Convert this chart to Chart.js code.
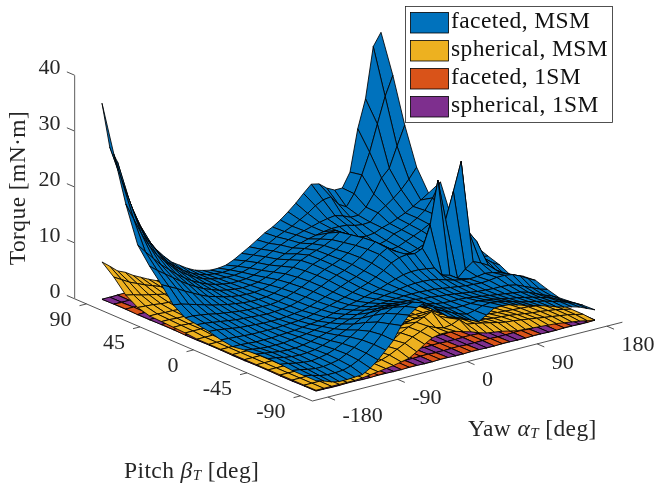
<!DOCTYPE html>
<html>
<head>
<meta charset="utf-8">
<style>html,body{margin:0;padding:0;background:#fff}canvas{display:block}</style>
<script src="https://cdn.jsdelivr.net/npm/chart.js@4/dist/chart.umd.min.js"></script>
</head>
<body>
<canvas id="c" width="657" height="489"></canvas>
<script>
const yawValues = [-180,-170,-160,-150,-140,-130,-120,-110,-100,-90,-80,-70,-60,-50,-40,-30,-20,-10,0,10,20,30,40,50,60,70,80,90,100,110,120,130,140,150,160,170,180];
const pitchValues = [90,80,70,60,50,40,30,20,10,0,-10,-20,-30,-40,-50,-60,-70,-80,-90];
const yawTicks = [-180,-90,0,90,180];
const pitchTicks = [90,45,0,-45,-90];
const torqueTicks = [0,10,20,30,40];
const seriesNames = ['faceted, MSM','spherical, MSM','faceted, 1SM','spherical, 1SM'];
const seriesColors = ['#0072BD','#EDB120','#D95319','#7E2F8E'];

const facetedMSM = [
[35.2,27,24,18.6,14.7,11.4,8.6,6.6,5,3.6,2.7,1.8,1.1,.7,.4,.4,.6,1.2,2,2.8,3.7,4.6,5.3,6.2,7.3,8.5,9.9,11.2,10.9,9.8,9.1,9.1,11.6,19,24,33,35.2],
[27,22,18,14,11,8.8,6.8,5.2,4,3,2.2,1.6,1.2,1,.9,1,1.3,1.9,2.6,3.3,4,4.8,5.4,6,6.8,7.6,8.6,9.3,9.5,7.8,7,9,12,15.7,20.4,25,28.4],
[19,16,13,10.5,8.5,7,5.6,4.4,3.5,2.7,2.1,1.7,1.4,1.3,1.3,1.5,1.9,2.5,3.2,3.9,4.6,5.2,5.7,6.1,6.5,6.9,7.2,7.4,7,6.4,6.4,7.5,9.5,12,13.4,17,20.4],
[12.6,11,9.5,8,6.8,5.6,4.6,3.7,3,2.4,2,1.7,1.5,1.5,1.6,1.9,2.4,3,3.7,4.3,5,5.5,5.9,6.2,6.5,6.7,6.7,6.6,6.2,6,6.1,7.4,8.3,9.3,10.5,12,13.8],
[9.7,8.6,7.6,6.6,5.6,4.7,3.9,3.2,2.7,2.2,1.9,1.7,1.6,1.7,1.9,2.4,3,3.7,4.5,5.2,5.8,6.3,6.8,7.5,7.6,6.8,6,5.4,5.2,5.4,6,6.4,7,7.6,8.4,9.2,10.1],
[7.3,6.6,5.9,5.1,4.4,3.7,3.1,2.7,2.3,2,1.8,1.7,1.7,1.9,2.3,2.9,3.6,4.4,5.3,5.9,6.4,6.9,7.6,8.6,7.9,6.9,5.9,5,4.6,5,5.8,6.2,6.8,7.6,8.6,10.5,13],
[4.6,4.4,4,3.6,3.2,2.8,2.5,2.2,2,1.8,1.7,1.7,1.8,2.1,2.6,3.2,3.9,4.7,5.5,6,6.5,7.1,8,9,8.1,7.1,6.1,5.2,4.6,4.8,5.4,6,6.6,7.4,8.6,8,7],
[3.2,3.2,3,2.8,2.5,2.3,2.1,1.9,1.8,1.7,1.7,1.7,1.9,2.3,2.8,3.4,4.1,4.8,5.5,6,6.6,7.4,8.4,9.4,8.4,7.4,6.4,5.4,4.6,4.6,5,5.6,6.2,7,6.6,6,5.6],
[2.9,2.8,2.6,2.4,2.2,2,1.9,1.8,1.7,1.6,1.7,1.8,2,2.4,2.9,3.5,4.1,4.8,5.4,5.9,6.6,7.5,8.6,9.6,8.6,7.6,6.6,5.6,4.8,4.4,5,6,7,6.4,5.4,4.5,4.2],
[2.6,2.5,2.3,2.1,1.9,1.8,1.7,1.6,1.6,1.6,1.7,1.9,2.1,2.5,3,3.5,4,4.6,5.2,5.7,6.4,7.4,8.6,9.4,8.5,7.5,6.5,5.5,4.8,6.5,8,6.5,7,6,4.6,3.6,3.4],
[2,1.9,1.8,1.7,1.6,1.6,1.6,1.6,1.7,1.8,1.9,2.1,2.4,2.8,3.2,3.6,4,4.5,5,5.5,6.2,7,8,8.6,8.8,8.6,9.2,13,20.7,13.3,18,23,10,8,4.6,3.5,2.7],
[1.7,1.7,1.6,1.5,1.5,1.5,1.6,1.7,1.8,2,2.2,2.4,2.7,3.1,3.5,3.9,4.2,4.6,5,5.4,5.9,6.4,6.8,7,7,6.8,6.6,5,4.6,3.7,5,6,5.4,4.6,3.4,2.4,1.6],
[2,1.8,1.6,1.5,1.5,1.5,1.7,1.9,2.1,2.4,2.7,3,3.4,3.8,4.2,4.5,4.8,5.1,5.4,5.6,5.9,6.1,6.2,6.2,6.1,5.8,5.4,5,4.7,4.5,4.6,4.8,4.6,4.2,3.6,3,2.5],
[2.2,2,1.8,1.6,1.5,1.5,1.7,2,2.4,2.8,3.2,3.7,4.2,4.7,5.1,5.4,5.6,5.7,5.8,5.9,5.9,5.9,5.8,5.7,5.5,5.3,5.1,4.9,4.8,4.7,4.8,5,5,4.8,4.2,3.4,2.7],
[2.3,2.1,1.8,1.6,1.5,1.6,1.8,2.2,2.7,3.3,3.9,4.6,5.3,5.9,6.3,6.5,6.5,6.4,6.3,6.2,6,5.9,5.7,5.6,5.4,5.2,5,4.8,4.7,4.6,4.6,4.5,4.2,3.6,3,2.4,2],
[2.2,2,1.7,1.5,1.4,1.6,1.9,2.4,3.1,3.9,4.8,5.8,6.7,7.4,7.6,7.5,7.2,6.9,6.6,6.3,6,5.8,5.7,5.7,5.6,5.4,5.2,5,4.8,4.6,4.4,4.2,3.8,3.2,2.6,2.1,1.4],
[2,1.8,1.5,1.3,1.3,1.5,1.8,2.5,3.3,4.3,5.5,6.8,8,8.7,8.9,8.5,8,7.4,6.9,6.5,6.1,5.8,5.8,5.9,6,5.8,5.6,5.3,5,4.8,4.5,4.2,3.8,3.4,2.8,2.2,1.6],
[2,1.7,1.3,1.1,1.1,1.2,1.6,2.3,3.2,4.4,5.8,7.4,8.8,9.8,10.2,9.6,8.6,7.8,7.2,6.6,6,5.6,5.9,6.4,6.6,6.4,6.1,5.7,5.3,5,4.7,4.4,4,3.6,3.1,2.6,1.9],
[2,1.6,1.1,.8,.8,.9,1,1.8,2.9,4.3,5.7,8,9.5,10.5,11,10,8.5,7.5,7,6.5,5.8,5.2,6,6.9,7,6.8,6.4,6,5.6,5.2,4.8,4.3,3.9,3.6,3.2,2.6,2]
];

const sphericalMSM = [
[6.8,5.7,4.5,3.9,3,2.3,1.6,1,.8,.6,.5,.4,.3,.3,.3,.3,.3,.3,.4,.4,.4,.4,.5,.5,.5,.6,.6,.7,.8,1,1.2,1.6,2,2.6,3.4,4.6,6.8],
[5,4.2,3.4,2.8,2.2,1.7,1.2,.9,.7,.5,.4,.3,.3,.3,.3,.3,.3,.3,.3,.3,.4,.4,.4,.4,.5,.5,.5,.6,.7,.9,1.1,1.4,1.8,2.3,2.9,3.8,5],
[2.7,2.4,2,1.7,1.4,1.1,.9,.7,.5,.4,.4,.3,.3,.3,.3,.3,.3,.3,.3,.3,.3,.4,.4,.4,.4,.5,.5,.5,.6,.7,.9,1.1,1.3,1.6,1.9,2.3,2.7],
[1.4,1.3,1.2,1,.9,.8,.6,.5,.4,.4,.3,.3,.3,.3,.3,.3,.3,.3,.3,.3,.3,.3,.4,.4,.4,.4,.5,.5,.5,.6,.7,.8,.9,1,1.1,1.3,1.4],
[.8,.8,.7,.7,.6,.6,.5,.4,.4,.3,.3,.3,.3,.3,.3,.3,.3,.3,.3,.3,.3,.3,.3,.4,.4,.4,.4,.4,.5,.5,.5,.6,.6,.7,.7,.8,.8],
[.7,.7,.6,.6,.5,.5,.4,.4,.4,.3,.3,.3,.3,.3,.3,.3,.3,.3,.3,.3,.3,.3,.3,.3,.4,.4,.4,.4,.4,.4,.5,.5,.5,.6,.6,.7,.7],
[.6,.6,.5,.5,.5,.4,.4,.4,.3,.3,.3,.3,.3,.3,.3,.3,.3,.3,.3,.3,.3,.3,.3,.3,.3,.4,.4,.4,.4,.4,.4,.5,.5,.5,.5,.6,.6],
[.5,.5,.5,.4,.4,.4,.4,.3,.3,.3,.3,.3,.3,.3,.3,.3,.3,.3,.3,.3,.3,.3,.3,.3,.3,.3,.4,.4,.4,.4,.4,.4,.4,.5,.5,.5,.5],
[.3,.3,.3,.3,.3,.3,.3,.3,.3,.3,.3,.3,.3,.3,.3,.3,.3,.3,.3,.3,.3,.3,.3,.3,.3,.3,.4,.4,.4,.4,.4,.4,.4,.4,.4,.4,.4],
[.3,.3,.3,.3,.3,.3,.3,.3,.3,.3,.3,.3,.3,.3,.3,.3,.3,.3,.3,.3,.3,.3,.3,.3,.4,.4,.4,.4,.4,.4,.4,.4,.4,.4,.4,.4,.4],
[.3,.3,.3,.3,.3,.3,.3,.3,.3,.3,.3,.3,.3,.4,.4,.4,.4,.4,.4,.4,.4,.4,.4,.4,.4,.4,.4,.4,.4,.4,.4,.4,.4,.4,.4,.4,.4],
[.3,.3,.3,.3,.3,.3,.3,.3,.3,.3,.3,.3,.4,.4,.4,.5,.5,.5,.5,.5,.5,.5,.5,.5,.5,.5,.5,.5,.5,.5,.5,.5,.5,.4,.4,.4,.3],
[.3,.3,.3,.3,.3,.3,.3,.3,.3,.3,.4,.4,.5,.5,.6,.6,.7,.7,.7,.7,.7,.7,.6,.6,.6,.6,.6,.6,.6,.6,.6,.6,.5,.5,.4,.4,.3],
[.3,.3,.3,.3,.3,.3,.3,.3,.4,.4,.4,.5,.6,.7,.8,.9,1,1.1,1.2,1.2,1.1,1,.9,.9,.9,.9,.9,.9,.8,.8,.8,.7,.7,.6,.5,.4,.3],
[.3,.3,.3,.3,.3,.3,.4,.4,.5,.5,.6,.7,.9,1.1,1.3,1.6,1.9,2.1,2.2,2.2,2,1.8,1.6,1.5,1.4,1.3,1.3,1.3,1.2,1.2,1.1,1.1,1,.9,.7,.5,.3],
[.3,.3,.3,.3,.3,.3,.4,.5,.6,.7,.9,1.2,1.6,2.1,2.7,3.3,3.8,4.2,4.5,4.2,3.6,2.9,2.4,2.1,1.9,1.8,1.8,1.7,1.6,1.5,1.4,1.3,1.2,1,.8,.5,.3],
[.3,.3,.3,.3,.3,.3,.4,.5,.7,.9,1.1,1.6,2.2,2.9,3.8,4.5,5,5.6,6.2,5,4.4,4,3.4,3,2.6,2.4,2.2,2.1,2,1.8,1.6,1.4,1.3,1.1,.9,.6,.3],
[.3,.3,.3,.3,.3,.3,.4,.6,.8,1,1.3,1.8,2.5,3.2,4,4.6,5.2,4.6,4.2,4.4,5,3.8,3.6,3.3,3,2.7,2.4,2.3,2.1,1.9,1.7,1.5,1.3,1.1,.9,.6,.3],
[.3,.3,.3,.3,.3,.3,.4,.6,.8,1,1.2,1.5,1.8,2.6,3.6,4.4,4.7,4.7,4.5,4.1,3.7,3.2,2.8,2.6,2.4,2.1,1.8,1.7,1.6,1.5,1.4,1.3,1.1,.9,.7,.4,.1]
];

const facetedRowA = [.1,.1,.2,.2,.1,.1,.2,.2,.1,.1,.2,.2,.1,.1,.2,.2,.1,.1,.2,.2,.1,.1,.2,.2,.1,.1,.2,.2,.1,.1,.2,.2,.1,.1,.2,.2,.1];
const facetedRowB = [.2,.1,.1,.2,.2,.1,.1,.2,.2,.1,.1,.2,.2,.1,.1,.2,.2,.1,.1,.2,.2,.1,.1,.2,.2,.1,.1,.2,.2,.1,.1,.2,.2,.1,.1,.2,.2];
const facetedRowC = [.2,.2,.1,.1,.2,.2,.1,.1,.2,.2,.1,.1,.2,.2,.1,.1,.2,.2,.1,.1,.2,.2,.1,.1,.2,.2,.1,.1,.2,.2,.1,.1,.2,.2,.1,.1,.2];
const facetedRowD = [.1,.2,.2,.1,.1,.2,.2,.1,.1,.2,.2,.1,.1,.2,.2,.1,.1,.2,.2,.1,.1,.2,.2,.1,.1,.2,.2,.1,.1,.2,.2,.1,.1,.2,.2,.1,.1];
const faceted1SM = [facetedRowA,facetedRowB,facetedRowC,facetedRowD,facetedRowA,facetedRowB,facetedRowC,facetedRowD,facetedRowA,facetedRowB,facetedRowC,facetedRowD,facetedRowA,facetedRowB,facetedRowC,facetedRowD,facetedRowA,facetedRowB,facetedRowC];
const sphericalRow = [.15,.15,.15,.15,.15,.15,.15,.15,.15,.15,.15,.15,.15,.15,.15,.15,.15,.15,.15,.15,.15,.15,.15,.15,.15,.15,.15,.15,.15,.15,.15,.15,.15,.15,.15,.15,.15];
const spherical1SM = pitchValues.map(() => sphericalRow);

const surfaces = [facetedMSM, sphericalMSM, faceted1SM, spherical1SM];

/* orthographic view of the box */
const view = {cx:348.5, cy:310.5, yawX:.775, yawY:-.197, pitchX:-1.189, pitchY:-.511, zY:-5.59};
function project(yaw, pitch, z){
  return {x: view.cx + view.yawX*yaw + view.pitchX*pitch,
          y: view.cy + view.yawY*yaw + view.pitchY*pitch + view.zY*z};
}
const AXIS = '#262626';
const box = {yaw:200, pitch:100, z:40};

function mean4(m,j,i){ return (m[j][i]+m[j][i+1]+m[j+1][i]+m[j+1][i+1])/4; }

const back2front = [];
for (let i = yawValues.length-2; i >= 0; i--){
  for (let j = 0; j < pitchValues.length-1; j++){
    const layers = surfaces.map((m,s)=>({s, h:mean4(m,j,i)})).sort((a,b)=>a.h-b.h);
    for (const l of layers){
      const m = surfaces[l.s];
      const pts = [[j,i],[j,i+1],[j+1,i+1],[j+1,i],[j,i]].map(([r,c])=>project(yawValues[c],pitchValues[r],m[r][c]));
      back2front.push({type:'scatter',data:pts,showLine:true,fill:'shape',tension:0,
        backgroundColor:seriesColors[l.s],borderColor:'#000',borderWidth:.85,pointRadius:0,borderJoinStyle:'bevel'});
    }
  }
}
function axisSeg(a,b,w,color){
  return {type:'scatter',data:[project(...a),project(...b)],showLine:true,fill:false,tension:0,
    borderColor:color||AXIS,borderWidth:w||.8,pointRadius:0};
}
const axisSets = [
  axisSeg([-box.yaw,box.pitch,0],[-box.yaw,box.pitch,box.z],1.2,'#777'),
  axisSeg([-box.yaw,box.pitch,0],[-box.yaw,-box.pitch,0]),
  axisSeg([-box.yaw,-box.pitch,0],[box.yaw,-box.pitch,0])
];
for (const t of torqueTicks) axisSets.push(axisSeg([-box.yaw,box.pitch,t],[-box.yaw,box.pitch+6.5,t]));
for (const t of pitchTicks) axisSets.push(axisSeg([-box.yaw,t,0],[-box.yaw-9,t,0]));
for (const t of yawTicks) axisSets.push(axisSeg([t,-box.pitch,0],[t,-box.pitch-6,0]));

const FONT = '"Liberation Serif", serif';
const TEXT = '#262626';
const TICK_SIZE = 22, LABEL_SIZE = 23.5, SPACING = '.4px';
function runs(ctx, parts, x, y){
  let cx = x;
  for (const p of parts){
    ctx.font = (p.italic?'italic ':'') + p.size + 'px ' + FONT;
    ctx.fillText(p.t, cx, y + (p.dy||0));
    cx += ctx.measureText(p.t).width;
  }
}
const textPlugin = {
  id:'labels3d',
  afterDraw(chart){
    const {ctx, scales:{x:sx, y:sy}} = chart;
    const px = p => ({x:sx.getPixelForValue(p.x), y:sy.getPixelForValue(p.y)});
    ctx.save();
    ctx.fillStyle = TEXT;
    ctx.textBaseline = 'middle';
    ctx.font = TICK_SIZE + 'px ' + FONT;
    ctx.textAlign = 'right';
    for (const t of torqueTicks){ const a = px(project(-box.yaw,box.pitch,t)); ctx.fillText(String(t), a.x-14, a.y-6.5); }
    for (const t of pitchTicks){ const a = px(project(-box.yaw,t,0)); ctx.fillText(String(t), a.x-15, a.y+16.5); }
    ctx.textAlign = 'left';
    for (const t of yawTicks){ const a = px(project(t,-box.pitch,0)); ctx.fillText(String(t), a.x+14.5, a.y+19); }
    ctx.letterSpacing = SPACING;
    runs(ctx,[{t:'Yaw ',size:LABEL_SIZE},{t:'α',size:LABEL_SIZE,italic:true},{t:'T',size:15,italic:true,dy:4},{t:' [deg]',size:LABEL_SIZE}],468,430);
    runs(ctx,[{t:'Pitch ',size:LABEL_SIZE},{t:'β',size:LABEL_SIZE,italic:true},{t:'T',size:15,italic:true,dy:4},{t:' [deg]',size:LABEL_SIZE}],124,472);
    ctx.save();
    ctx.translate(19,188); ctx.rotate(-Math.PI/2);
    ctx.textAlign='center';
    ctx.font=LABEL_SIZE+'px '+FONT;
    ctx.fillText('Torque [mN·m]',0,0);
    ctx.restore();
    // legend
    ctx.fillStyle='#fff'; ctx.strokeStyle=AXIS; ctx.lineWidth=.8;
    ctx.fillRect(405.5,6.5,207,116); ctx.strokeRect(405.5,6.5,207,116);
    seriesNames.forEach((n,i)=>{
      const top = 12 + i*28;
      ctx.fillStyle=seriesColors[i]; ctx.strokeStyle='#000'; ctx.lineWidth=.8;
      ctx.fillRect(410.5,top+.5,38,20.5); ctx.strokeRect(410.5,top+.5,38,20.5);
      ctx.fillStyle='#111'; ctx.textAlign='left'; ctx.font=LABEL_SIZE+'px '+FONT;
      ctx.fillText(n,451,top+9.5);
    });
    ctx.restore();
  }
};

new Chart(document.getElementById('c'),{
  type:'scatter',
  data:{datasets: back2front.slice().reverse().concat(axisSets)},
  options:{
    responsive:false,animation:false,events:[],
    layout:{padding:0},
    clip:false,
    scales:{
      x:{type:'linear',min:0,max:657,display:false},
      y:{type:'linear',min:0,max:489,reverse:true,display:false}
    },
    plugins:{legend:{display:false},tooltip:{enabled:false},filler:{drawTime:'beforeDatasetDraw',propagate:false}}
  },
  plugins:[textPlugin]
});
</script>
</body>
</html>
